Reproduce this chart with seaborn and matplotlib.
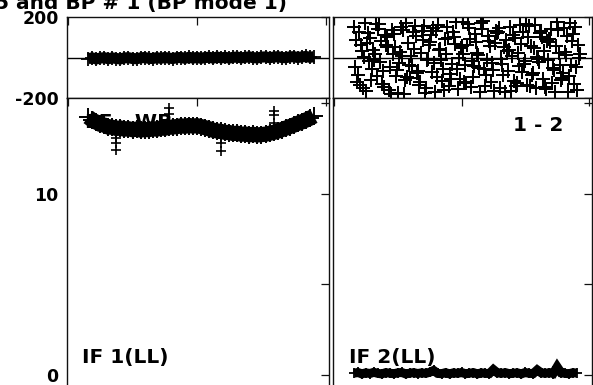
import numpy as np
import matplotlib
matplotlib.use("Agg")
import matplotlib.pyplot as plt
import seaborn as sns

sns.set_style("white")
plt.rcParams["font.family"] = ["DejaVu Sans"]
plt.rcParams["font.weight"] = "bold"
plt.rcParams["axes.unicode_minus"] = False
plt.rcParams["text.color"] = "black"
plt.rcParams["xtick.color"] = "black"
plt.rcParams["ytick.color"] = "black"

# channels shown in both IFs
channels = np.arange(5, 62)

# IF 1 (LL) amplitude and phase per channel
amp_if1 = [14.25, 14.08, 13.97, 13.85, 13.80, 13.70, 13.68, 13.62, 13.64, 13.58,
           13.60, 13.55, 13.58, 13.53, 13.56, 13.55, 13.60, 13.58, 13.64, 13.63,
           13.68, 13.70, 13.72, 13.76, 13.74, 13.78, 13.75, 13.77, 13.72, 13.66,
           13.60, 13.52, 13.48, 13.45, 13.40, 13.39, 13.34, 13.35, 13.30, 13.31,
           13.27, 13.29, 13.26, 13.28, 13.30, 13.35, 13.40, 13.47, 13.55, 13.63,
           13.72, 13.80, 13.90, 13.98, 14.08, 14.18, 14.30]
phase_if1 = [-6, -2, -7, -3, -1, -6, -2, -5, -7, -2,
             -1, -5, -6, -2, 0, -4, -5, -1, -4, 0,
             -3, -5, -1, 0, -4, 1, -3, 0, -4, 0,
             1, -3, 2, -2, 1, -3, 1, 2, -2, 1,
             3, -1, -2, 2, 3, -1, 2, 4, 0, -1,
             3, 4, 0, 3, 5, 1, 4]

# IF 1 outlying points
outlier_chan = [12, 12, 12, 25, 25, 38, 38, 38, 51, 51, 51]
outlier_amp = [13.1, 12.8, 12.45, 14.75, 14.4, 13.1, 12.8, 12.4, 14.6, 14.35, 13.9]

# IF 2 (LL) amplitude per channel
amp_if2 = [0.10, 0.14, 0.06, 0.12, 0.08, 0.15, 0.09, 0.06, 0.13, 0.10,
           0.07, 0.12, 0.14, 0.06, 0.10, 0.13, 0.08, 0.12, 0.09, 0.15,
           0.25, 0.09, 0.07, 0.13, 0.06, 0.12, 0.09, 0.14, 0.07, 0.10,
           0.13, 0.06, 0.12, 0.09, 0.08, 0.30, 0.12, 0.09, 0.13, 0.07,
           0.10, 0.12, 0.06, 0.14, 0.09, 0.08, 0.28, 0.12, 0.09, 0.13,
           0.08, 0.45, 0.12, 0.09, 0.07, 0.13, 0.10]

# IF 2 phases (four samples per channel)
phase_if2_a = [152, -88, 31, -164, 97, -12, 140, -131, 63, -47, 118, -175, 8, 171,
               -102, 44, -69, 129, -150, 77, -25, 160, -118, 15, -83, 103, -158, 56,
               -36, 145, -96, 24, 168, -140, 81, -60, 122, -7, -172, 39, 109, -124,
               66, -19, 155, -79, 2, 133, -147, 90, -53, 174, -112, 28, -90, 114, -161]
phase_if2_b = [-45, 126, -153, 72, -110, 18, 163, -66, 99, -178, 50, -29, 137, -95,
               5, 158, -137, 84, -14, 111, -169, 37, -57, 149, -106, 69, -3, 176,
               -127, 93, -41, 12, 142, -85, 58, -163, 125, -33, 86, 150, -116, 21,
               -74, 166, -143, 47, -9, 101, -155, 79, -62, 134, -99, 10, 170, -131, 61]
phase_if2_c = [88, -135, 4, 119, -58, 167, -21, -146, 54, 138, -91, 27, -179, 73,
               -40, 106, -121, 157, -6, -71, 131, 42, -159, 95, -30, 173, -104, 16,
               61, -148, 117, -52, 179, -11, -119, 70, 147, -87, 34, -166, 98, -44,
               127, -135, 59, 162, -23, -107, 83, 139, -168, 20, -77, 107, -38, 153, -2]
phase_if2_d = [-120, 64, 171, -17, 36, -92, 81, 112, -160, 19, -64, 150, -113, -35,
               128, -77, 22, -174, 60, 146, -98, -10, 92, -139, 124, -55, 47, -122,
               165, -17, 76, -170, -58, 108, -25, 132, -150, 53, -66, 6, -141, 161,
               -30, 100, -88, -152, 120, 33, -10, -128, 58, -36, 145, -170, 82, -49, 17]

W, H = 593, 385
fig = plt.figure(figsize=(W / 100, H / 100), dpi=100)


def box(x0, y0, x1, y1):
    return [x0 / W, 1 - y1 / H, (x1 - x0) / W, (y1 - y0) / H]


ax_p1 = fig.add_axes(box(67, 17, 329, 98))
ax_a1 = fig.add_axes(box(67, 98, 329, 387))
ax_p2 = fig.add_axes(box(333, 17, 592, 98))
ax_a2 = fig.add_axes(box(333, 98, 592, 387))

for ax in (ax_p1, ax_a1, ax_p2, ax_a2):
    ax.set_xlim(-0.25, 64.75)
    ax.set_xticks([0, 32, 64])
    ax.tick_params(direction="in", length=5.5, width=0.9, top=True, right=True,
                   labelbottom=False, labelsize=12.5, pad=6, color="#111111")
    for sp in ax.spines.values():
        sp.set_linewidth(1.0)
        sp.set_color("#111111")

for ax in (ax_p1, ax_p2):
    ax.set_ylim(-200, 200)
    ax.set_yticks([-200, 200])
    ax.axhline(0, color="black", lw=1.0, zorder=1)

for ax in (ax_a1, ax_a2):
    ax.set_ylim(-0.663, 15.3)
    ax.set_yticks([0, 5, 10, 15])

ax_p1.set_yticklabels(["-200", "200"])
ax_a1.set_yticklabels(["0", "", "10", ""])
ax_p2.tick_params(labelleft=False)
ax_a2.tick_params(labelleft=False)

# IF 1 phase band
sns.lineplot(x=channels, y=phase_if1, ax=ax_p1, color="black", lw=8,
             solid_capstyle="butt", solid_joinstyle="miter",
             marker="+", markersize=9.5, markeredgewidth=1.3, markeredgecolor="black",
             estimator=None, zorder=2)

# IF 1 amplitude band
ax_a1.text(4.2, 13.62, "EF - WB", fontsize=14.5, fontweight="bold", zorder=1)
sns.lineplot(x=channels, y=amp_if1, ax=ax_a1, color="black", lw=11,
             solid_capstyle="butt", solid_joinstyle="miter",
             marker="+", markersize=12.5, markeredgewidth=1.4, markeredgecolor="black",
             estimator=None, zorder=2)
sns.scatterplot(x=outlier_chan, y=outlier_amp, ax=ax_a1, marker="+", s=55,
                color="black", linewidth=1.2, zorder=3)

# IF 2 phases
for ph, off in ((phase_if2_a, 0.0), (phase_if2_b, 0.25),
                (phase_if2_c, 0.5), (phase_if2_d, 0.75)):
    sns.scatterplot(x=channels + off, y=ph, ax=ax_p2, marker="+", s=105,
                    color="black", linewidth=1.45, zorder=2)

# IF 2 amplitude band
sns.lineplot(x=channels, y=amp_if2, ax=ax_a2, color="black", lw=6.5,
             solid_capstyle="butt", solid_joinstyle="miter",
             marker="+", markersize=7, markeredgewidth=1.3, markeredgecolor="black",
             estimator=None, zorder=2)

for ax in (ax_a1, ax_a2, ax_p1, ax_p2):
    leg = ax.get_legend()
    if leg is not None:
        leg.remove()
    ax.set_xlabel("")
    ax.set_ylabel("")

ax_a1.text(3.5, 0.66, "IF 1(LL)", fontsize=14.5, fontweight="bold")
ax_a2.text(3.8, 0.66, "IF 2(LL)", fontsize=14.5, fontweight="bold")
ax_a2.text(44.9, 13.5, "1 - 2", fontsize=14.5, fontweight="bold")

fig.text(-5 / W, 1 - 9.5 / H, "5 and BP # 1 (BP mode 1)", fontsize=14.5,
         fontweight="bold", va="baseline", ha="left")

fig.savefig("out.png", dpi=100)
